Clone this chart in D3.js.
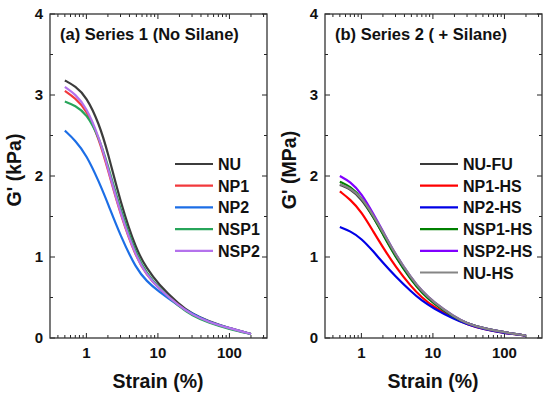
<!DOCTYPE html>
<html lang="en">
<head>
<meta charset="UTF-8">
<title>G' vs strain</title>
<script src="https://d3js.org/d3.v7.min.js"></script>
<style>
body { margin: 0; background: #fff; }
svg { display: block; }
text { font-family: "Liberation Sans", Arial, sans-serif; font-weight: bold; fill: #111; }
</style>
</head>
<body>
<script>
// shared strain points (%)
const strain = [0.5, 0.7, 1, 1.5, 2, 3, 5, 7, 10, 20, 30, 50, 100, 200]

// panel (a) G' (kPa)
const namesA = ["NU", "NP1", "NP2", "NSP1", "NSP2"]
const colorsA = ["#3c3c3c", "#f2393c", "#1c6ee6", "#27a55a", "#b472ec"]
const NU   = [3.18, 3.11, 2.98, 2.65, 2.29, 1.67, 1.08, 0.86, 0.67, 0.41, 0.30, 0.21, 0.12, 0.05]
const NP1  = [3.05, 2.96, 2.82, 2.46, 2.08, 1.52, 0.98, 0.78, 0.62, 0.39, 0.29, 0.20, 0.12, 0.05]
const NP2  = [2.56, 2.44, 2.26, 1.93, 1.66, 1.26, 0.85, 0.70, 0.58, 0.39, 0.30, 0.20, 0.12, 0.05]
const NSP1 = [2.92, 2.87, 2.77, 2.48, 2.13, 1.58, 1.02, 0.80, 0.63, 0.38, 0.28, 0.19, 0.11, 0.05]
const NSP2 = [3.10, 3.01, 2.85, 2.48, 2.10, 1.53, 0.99, 0.78, 0.62, 0.39, 0.29, 0.20, 0.12, 0.05]

// panel (b) G' (MPa)
const namesB = ["NU-FU", "NP1-HS", "NP2-HS", "NSP1-HS", "NSP2-HS", "NU-HS"]
const colorsB = ["#3a3a3a", "#ff0000", "#0000e6", "#008000", "#8000ff", "#858585"]
const NU_FU   = [1.89, 1.84, 1.72, 1.48, 1.29, 1.01, 0.72, 0.57, 0.44, 0.25, 0.18, 0.12, 0.07, 0.03]
const NP1_HS  = [1.81, 1.71, 1.56, 1.30, 1.12, 0.88, 0.63, 0.50, 0.39, 0.24, 0.17, 0.11, 0.06, 0.03]
const NP2_HS  = [1.37, 1.32, 1.23, 1.06, 0.93, 0.76, 0.57, 0.46, 0.37, 0.23, 0.17, 0.11, 0.06, 0.03]
const NSP1_HS = [1.93, 1.87, 1.74, 1.48, 1.28, 1.00, 0.71, 0.56, 0.43, 0.25, 0.18, 0.12, 0.07, 0.03]
const NSP2_HS = [2.00, 1.93, 1.79, 1.52, 1.32, 1.03, 0.74, 0.58, 0.45, 0.26, 0.18, 0.12, 0.07, 0.03]
const NU_HS   = [1.90, 1.85, 1.74, 1.50, 1.31, 1.03, 0.74, 0.58, 0.45, 0.26, 0.18, 0.12, 0.07, 0.03]

const yTicks = [0, 1, 2, 3, 4]
const xTicks = [1, 10, 100]

const svg = d3.select("body").append("svg").attr("width", 550).attr("height", 399)

function panel(opt) {
    const x = d3.scaleLog().domain([0.31, 335]).range([opt.left, opt.left + 217])
    const y = d3.scaleLinear().domain([0, 4]).range([338, 14])
    const g = svg.append("g")

    // minor / major ticks, pointing inward on all four sides
    const minorX = []
    for (let d = 0.1; d <= 100; d *= 10)
        for (let k = 2; k <= 9; k++) if (d * k > 0.31 && d * k < 335) minorX.push(d * k)
    const minorY = [0.5, 1.5, 2.5, 3.5]
    const ticks = g.append("g").attr("stroke", "#222").attr("stroke-width", 1)
    function vt(v, len) {
        ticks.append("line").attr("x1", x(v)).attr("x2", x(v)).attr("y1", 338).attr("y2", 338 - len)
        ticks.append("line").attr("x1", x(v)).attr("x2", x(v)).attr("y1", 14).attr("y2", 14 + len)
    }
    function ht(v, len) {
        ticks.append("line").attr("y1", y(v)).attr("y2", y(v)).attr("x1", x.range()[0]).attr("x2", x.range()[0] + len)
        ticks.append("line").attr("y1", y(v)).attr("y2", y(v)).attr("x1", x.range()[1]).attr("x2", x.range()[1] - len)
    }
    minorX.forEach(v => vt(v, 3))
    xTicks.forEach(v => vt(v, 5))
    minorY.forEach(v => ht(v, 3))
    yTicks.forEach(v => ht(v, 5))

    g.append("rect")
        .attr("x", x.range()[0]).attr("y", 14)
        .attr("width", 217).attr("height", 324)
        .attr("fill", "none").attr("stroke", "#333").attr("stroke-width", 1.3)

    g.selectAll(".yl").data(yTicks).enter().append("text")
        .attr("x", opt.left - 7).attr("y", d => y(d) + 5)
        .attr("text-anchor", "end").attr("font-size", 15).text(d => d)
    g.selectAll(".xl").data(xTicks).enter().append("text")
        .attr("x", d => x(d)).attr("y", 358)
        .attr("text-anchor", "middle").attr("font-size", 15).text(d => d)

    g.append("text").attr("x", opt.left + 108).attr("y", 388)
        .attr("text-anchor", "middle").attr("font-size", 19.5).text("Strain (%)")
    g.append("text").attr("transform", `translate(${opt.left - 29},170) rotate(-90)`)
        .attr("text-anchor", "middle").attr("font-size", 19.5).text(opt.ytitle)
    g.append("text").attr("x", opt.left + 10).attr("y", 40)
        .attr("font-size", 16.5).text(opt.title)

    const line = d3.line().x((d, i) => x(strain[i])).y(d => y(d)).curve(d3.curveBasis)
    opt.series.forEach((s, i) => {
        g.append("path").attr("d", line(s)).attr("fill", "none")
            .attr("stroke", opt.colors[i]).attr("stroke-width", 2.2)
    })

    // legend
    opt.names.forEach((n, i) => {
        const ly = 164 + i * 21.7
        g.append("line").attr("x1", opt.legX).attr("x2", opt.legX + 38)
            .attr("y1", ly).attr("y2", ly)
            .attr("stroke", opt.colors[i]).attr("stroke-width", 2.2)
        g.append("text").attr("x", opt.legX + 43).attr("y", ly + 6)
            .attr("font-size", 16).text(n)
    })
}

panel({
    left: 50, title: "(a) Series 1 (No Silane)", ytitle: "G' (kPa)",
    series: [NU, NP1, NP2, NSP1, NSP2], names: namesA, colors: colorsA, legX: 175
})
panel({
    left: 325, title: "(b) Series 2 ( + Silane)", ytitle: "G' (MPa)",
    series: [NU_FU, NP1_HS, NP2_HS, NSP1_HS, NSP2_HS, NU_HS], names: namesB, colors: colorsB, legX: 420
})
</script>
</body>
</html>
